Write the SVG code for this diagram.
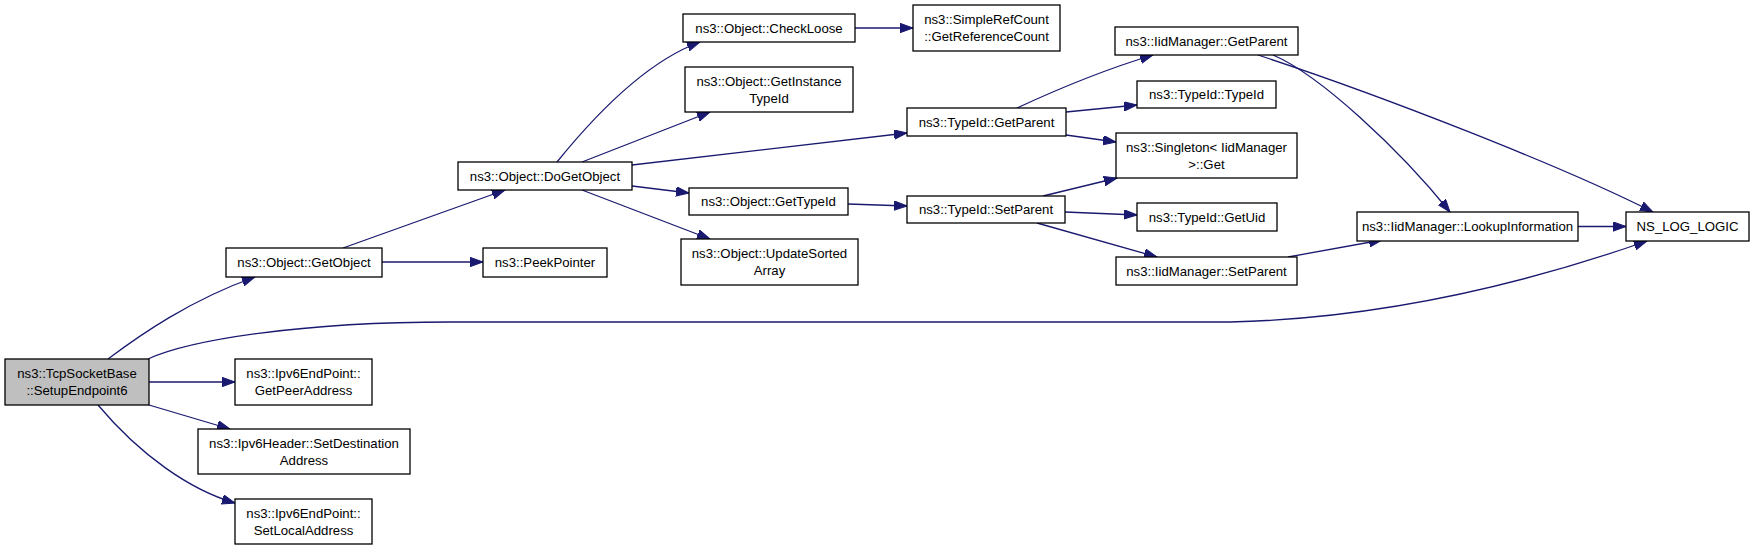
<svg xmlns="http://www.w3.org/2000/svg" width="1755" height="549" viewBox="0 0 1755 549">
<style>
.box{fill:#ffffff;stroke:#000000;stroke-width:1.3}
.hl{fill:#bfbfbf}
text{font-family:"Liberation Sans",Arial,sans-serif;font-size:13.2px;fill:#000000;text-anchor:middle}
.e{fill:none;stroke:#191970;stroke-width:1.3;marker-end:url(#ah)}
</style>
<defs>
<marker id="ah" markerUnits="userSpaceOnUse" markerWidth="14" markerHeight="10" refX="13" refY="4.7" orient="auto" viewBox="0 0 14 10">
<path d="M0,0 L13,4.7 L0,9.4 z" fill="#191970" stroke="#191970" stroke-width="1"/>
</marker>
</defs>
<rect width="1755" height="549" fill="#ffffff"/>
<g id="edges">
<path class="e" d="M108,359 C140,335 190,300 255,277"/>
<path class="e" d="M148,359 C190,340 300,322 450,322 L1230,322 C1400,318 1550,275 1647,241"/>
<path class="e" d="M149,382 L235,382"/>
<path class="e" d="M149,405 L230,429"/>
<path class="e" d="M98,405 C140,455 190,490 235,503"/>
<path class="e" d="M343,248 L505,190"/>
<path class="e" d="M382,262 L483,262"/>
<path class="e" d="M557,162 C595,115 645,62 700,42"/>
<path class="e" d="M582,162 L710,112"/>
<path class="e" d="M632,165 L907,133"/>
<path class="e" d="M632,186 L689,193"/>
<path class="e" d="M582,190 L710,239"/>
<path class="e" d="M855,28 L913,28"/>
<path class="e" d="M848,204 L907,206"/>
<path class="e" d="M1017,108 C1060,88 1110,68 1153,55"/>
<path class="e" d="M1066,112 L1137,105"/>
<path class="e" d="M1066,135 L1116,142"/>
<path class="e" d="M1043,196 L1117,178"/>
<path class="e" d="M1065,212 L1137,215"/>
<path class="e" d="M1037,223 L1157,257"/>
<path class="e" d="M1288,257 L1382,240"/>
<path class="e" d="M1273,55 C1320,75 1400,150 1450,212"/>
<path class="e" d="M1258,55 C1380,95 1560,165 1653,212"/>
<path class="e" d="M1578,226.5 L1626,226.5"/>
</g>
<g id="n0"><rect class="box hl" x="5" y="359" width="144" height="46"/><text x="77" y="378.2">ns3::TcpSocketBase</text><text x="77" y="395.2">::SetupEndpoint6</text></g>
<g id="n1"><rect class="box" x="226" y="248" width="156" height="29"/><text x="304" y="267.2">ns3::Object::GetObject</text></g>
<g id="n2"><rect class="box" x="1626" y="212" width="123" height="29"/><text x="1687.5" y="231.2">NS_LOG_LOGIC</text></g>
<g id="n3"><rect class="box" x="235" y="359" width="137" height="46"/><text x="303.5" y="378.2">ns3::Ipv6EndPoint::</text><text x="303.5" y="395.2">GetPeerAddress</text></g>
<g id="n4"><rect class="box" x="198" y="429" width="212" height="45"/><text x="304" y="447.7">ns3::Ipv6Header::SetDestination</text><text x="304" y="464.7">Address</text></g>
<g id="n5"><rect class="box" x="235" y="499" width="137" height="45"/><text x="303.5" y="517.7">ns3::Ipv6EndPoint::</text><text x="303.5" y="534.7">SetLocalAddress</text></g>
<g id="n6"><rect class="box" x="458" y="162" width="174" height="28"/><text x="545" y="180.7">ns3::Object::DoGetObject</text></g>
<g id="n7"><rect class="box" x="483" y="248" width="124" height="29"/><text x="545" y="267.2">ns3::PeekPointer</text></g>
<g id="n8"><rect class="box" x="683" y="14" width="172" height="28"/><text x="769" y="32.7">ns3::Object::CheckLoose</text></g>
<g id="n9"><rect class="box" x="685" y="67" width="168" height="45"/><text x="769" y="85.7">ns3::Object::GetInstance</text><text x="769" y="102.7">TypeId</text></g>
<g id="n10"><rect class="box" x="907" y="108" width="159" height="28"/><text x="986.5" y="126.7">ns3::TypeId::GetParent</text></g>
<g id="n11"><rect class="box" x="689" y="188" width="159" height="27"/><text x="768.5" y="206.2">ns3::Object::GetTypeId</text></g>
<g id="n12"><rect class="box" x="681" y="239" width="177" height="46"/><text x="769.5" y="258.2">ns3::Object::UpdateSorted</text><text x="769.5" y="275.2">Array</text></g>
<g id="n13"><rect class="box" x="913" y="5" width="147" height="46"/><text x="986.5" y="24.2">ns3::SimpleRefCount</text><text x="986.5" y="41.2">::GetReferenceCount</text></g>
<g id="n14"><rect class="box" x="907" y="196" width="158" height="27"/><text x="986" y="214.2">ns3::TypeId::SetParent</text></g>
<g id="n15"><rect class="box" x="1115" y="27" width="183" height="28"/><text x="1206.5" y="45.7">ns3::IidManager::GetParent</text></g>
<g id="n16"><rect class="box" x="1137" y="81" width="139" height="27"/><text x="1206.5" y="99.2">ns3::TypeId::TypeId</text></g>
<g id="n17"><rect class="box" x="1116" y="133" width="181" height="45"/><text x="1206.5" y="151.7">ns3::Singleton&lt; IidManager</text><text x="1206.5" y="168.7">&gt;::Get</text></g>
<g id="n18"><rect class="box" x="1137" y="203" width="140" height="28"/><text x="1207" y="221.7">ns3::TypeId::GetUid</text></g>
<g id="n19"><rect class="box" x="1116" y="257" width="181" height="28"/><text x="1206.5" y="275.7">ns3::IidManager::SetParent</text></g>
<g id="n20"><rect class="box" x="1357" y="212" width="221" height="29"/><text x="1467.5" y="231.2">ns3::IidManager::LookupInformation</text></g>
</svg>
